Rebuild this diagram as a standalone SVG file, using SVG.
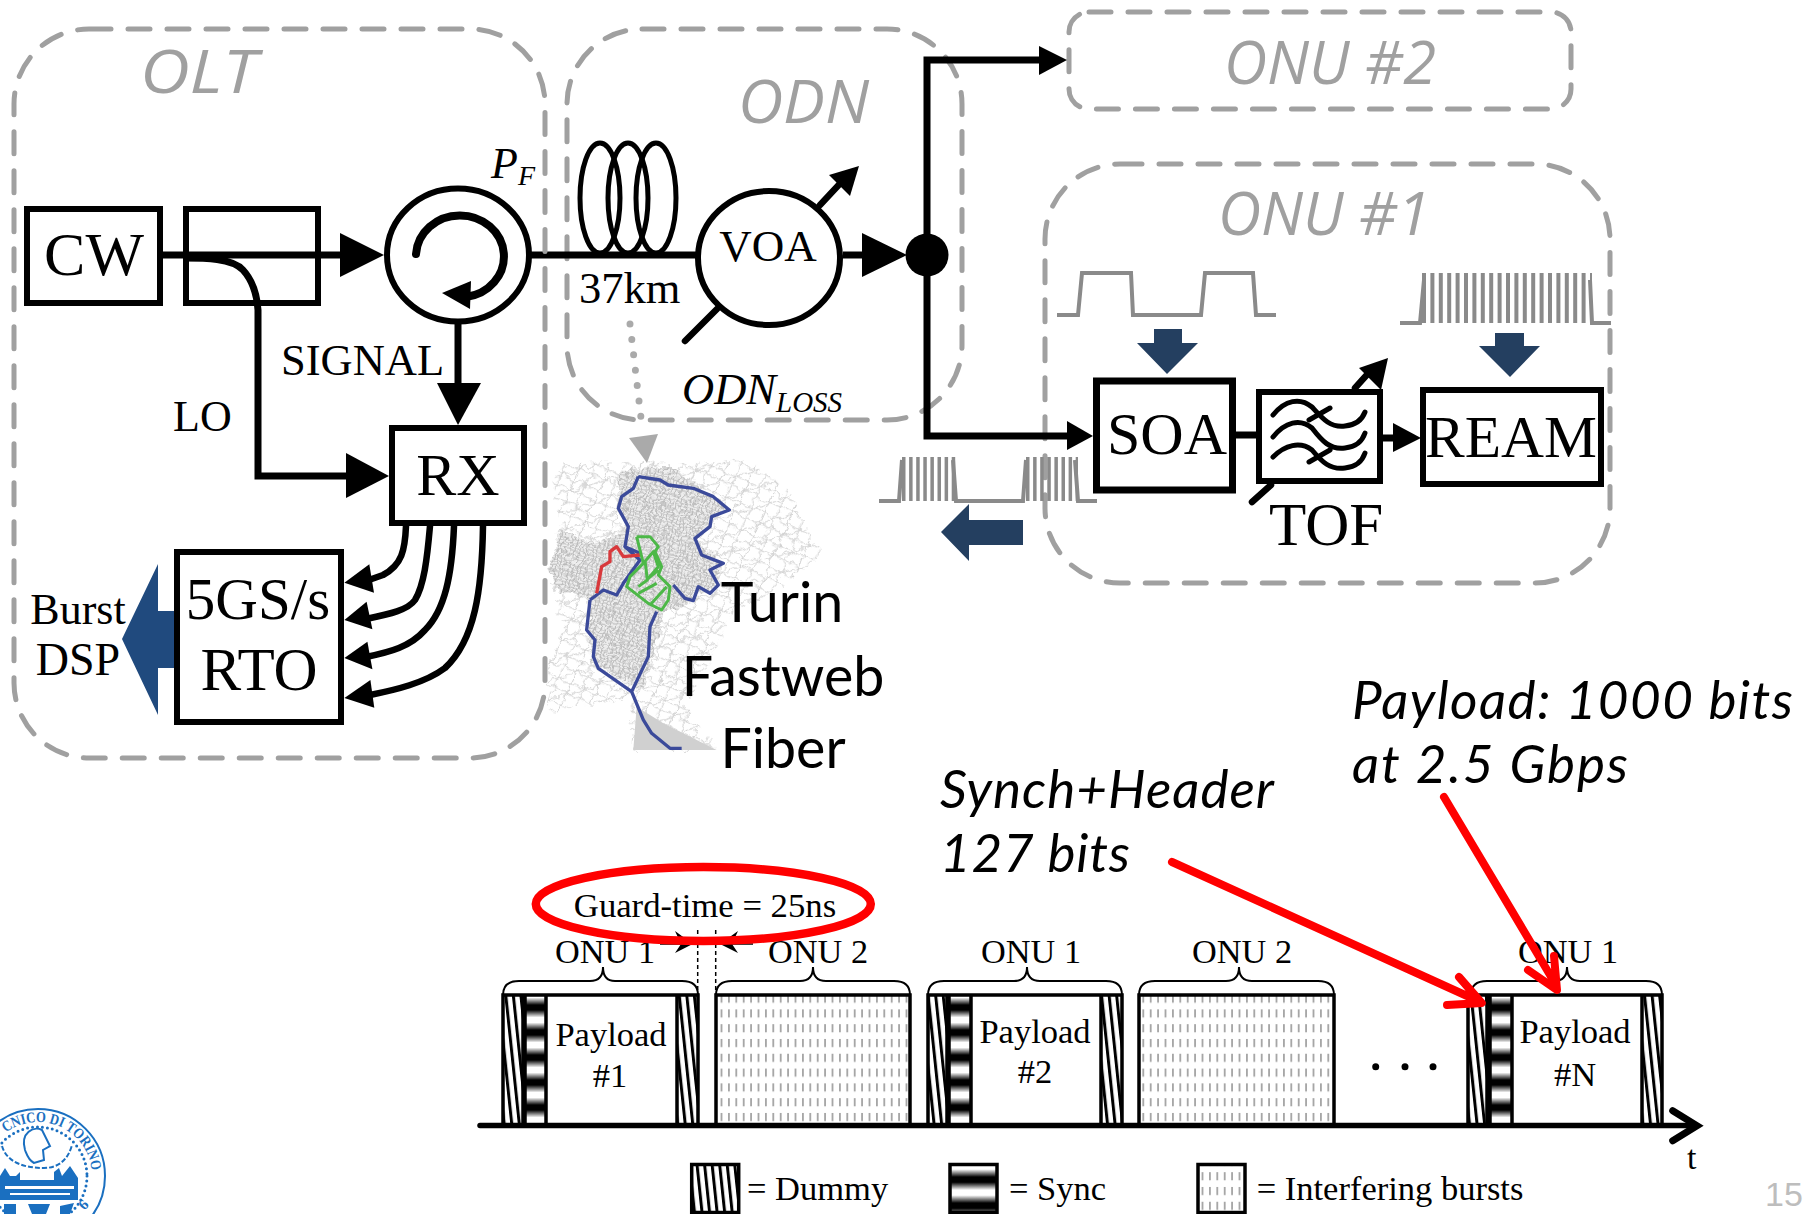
<svg xmlns="http://www.w3.org/2000/svg" width="1816" height="1214" viewBox="0 0 1816 1214">
<style>
.t{font-family:"Liberation Serif","Times New Roman",serif;fill:#000}
.m{text-anchor:middle}
.i{font-style:italic}
.g{font-family:"Open Sans","Noto Sans",sans-serif;font-style:italic;fill:#a0a0a0;font-size:61px}
.s{font-family:Lato,"Open Sans",sans-serif;font-style:italic;fill:#000;font-size:53px}
.c{font-family:Lato,"Open Sans",sans-serif;fill:#000;font-size:55.5px;text-anchor:middle}
.d{fill:none;stroke:#a0a0a0;stroke-width:5;stroke-dasharray:22 17;stroke-linecap:round}
.b{fill:#fff;stroke:#000;stroke-width:6}
.w{fill:none;stroke:#000;stroke-width:7}
.l{fill:none;stroke:#000;stroke-width:6.5;stroke-linejoin:round;stroke-linecap:round}
.f{fill:none;stroke:#000;stroke-width:5;stroke-linecap:round}
.p{fill:none;stroke:#8a8a8a;stroke-width:4}
.n{fill:#243f60}
.r{fill:none;stroke:#f00;stroke-width:8;stroke-linecap:round;stroke-linejoin:round}
.h{fill:none;stroke:#000;stroke-width:3.5}
.br{fill:none;stroke:#000;stroke-width:2}
.lg{fill:#1a6fc0}
.ls{fill:none;stroke:#1a6fc0;stroke-width:2}
</style>
<defs>
<pattern id="dummy" width="7.5" height="40" patternUnits="userSpaceOnUse" patternTransform="rotate(-6)"><rect width="7.5" height="40" fill="#fff"/><rect width="3" height="40" fill="#000"/></pattern>
<linearGradient id="bands" x1="0" y1="0" x2="0" y2="1"><stop offset="0" stop-color="#000"/><stop offset=".2" stop-color="#000"/><stop offset=".5" stop-color="#fff"/><stop offset=".7" stop-color="#fff"/><stop offset="1" stop-color="#000"/></linearGradient>
<pattern id="sync" y="1005" width="30" height="25" patternUnits="userSpaceOnUse"><rect width="30" height="25" fill="url(#bands)"/></pattern>
<pattern id="sync2" y="1177" width="60" height="26" patternUnits="userSpaceOnUse"><rect width="60" height="26" fill="url(#bands)"/></pattern>
<pattern id="dots" width="7.4" height="14.8" patternUnits="userSpaceOnUse"><rect width="7.4" height="14.8" fill="#fff"/><line x1="3.7" y1="3" x2="3.7" y2="11" stroke="#777" stroke-width="1.2"/></pattern>
<pattern id="sparse" width="80" height="70" patternUnits="userSpaceOnUse" patternTransform="rotate(24)"><path d="M0 14H80M0 46H80M22 0V70M60 0V70M0 70 80 0" fill="none" stroke="#d2d2d2" stroke-width="3"/></pattern>
<pattern id="dense" width="26" height="24" patternUnits="userSpaceOnUse" patternTransform="rotate(18)"><rect width="26" height="24" fill="#eeeeee"/><path d="M0 7H26M0 18H26M7 0V24M19 0V24" fill="none" stroke="#b8b8b8" stroke-width="3"/></pattern>
<filter id="streets" x="-5%" y="-5%" width="110%" height="110%"><feTurbulence type="fractalNoise" baseFrequency=".035" numOctaves="3" seed="7" result="n"/><feDisplacementMap in="SourceGraphic" in2="n" scale="30" xChannelSelector="R" yChannelSelector="G"/><feGaussianBlur stdDeviation="2"/></filter>
<path id="arc" d="M-16 1176A54 54 0 0 1 92 1176"/>
<clipPath id="logoclip"><rect x="0" y="1100" width="120" height="114"/></clipPath>
</defs>

<g id="odn-group"><rect class="d" x="567" y="29" width="395" height="391" rx="75"/><text class="g" x="738" y="123" textLength="131" lengthAdjust="spacingAndGlyphs">ODN</text></g>
<g id="onu2-group"><rect class="d" x="1069" y="12" width="502" height="97" rx="20"/><text class="g" x="1224" y="84" textLength="212" lengthAdjust="spacingAndGlyphs">ONU #2</text></g>
<g id="onu1-group"><rect class="d" x="1045" y="164" width="565" height="419" rx="75"/><text class="g" x="1218" y="235" textLength="212" lengthAdjust="spacingAndGlyphs">ONU #1</text></g>

<g id="turin-map">
<g transform="translate(530 430) scale(.3333)">
<g filter="url(#streets)">
<path fill="url(#sparse)" d="M100 100 290 95 480 100 650 90 780 180 860 350 870 380 760 470 600 560 540 700 470 830 560 960 310 960 300 810 130 830 50 860 55 700 100 600 55 430 90 280 70 150Z"/>
<path fill="url(#dense)" d="M270 120 420 110 590 230 500 330 570 400 560 470 400 550 340 780 190 700 170 500 90 490 55 420 90 300 200 340 290 300 260 230Z"/>
</g>
<path fill="#d0d0d0" d="M310 960 320 830 400 880 560 960Z"/>
<path fill="none" stroke="#3b4a9a" stroke-width="10" stroke-linejoin="round" d="M325 140 390 150 415 165 490 175 550 200 598 240 545 260 540 290 495 325 515 375 580 400 540 420 565 465 540 490 505 470 490 512 465 505 430 465M285 350 295 290 265 235 275 200 310 175 325 140M180 510 170 600 195 630 190 680 205 715 305 785 340 870 365 910 420 955 455 955M305 785 355 680 360 590 380 545M180 510 220 480 260 495 280 460 330 390 285 350 330 370"/>
<path fill="none" stroke="#d8393c" stroke-width="10" stroke-linejoin="round" d="M200 490 215 410 240 395 240 365 260 350 280 380 330 375"/>
<path fill="none" stroke="#4db848" stroke-width="9" stroke-linejoin="round" d="M320 320 360 320 385 350 375 365 395 410 385 435 420 470 415 510 395 540 355 520 290 470 300 440 340 400 320 320M340 400 370 365 385 410 355 445 385 420M325 490 380 460M360 525 410 470M345 390 352 450 325 470"/>
</g>
<text class="c" x="782" y="622">Turin</text>
<text class="c" x="783" y="696">Fastweb</text>
<text class="c" x="783" y="768">Fiber</text>
</g>

<g id="connectors">
<path class="w" d="M162 255H345"/><path d="M340 233 384 255 340 277Z"/>
<path class="w" d="M183 258C205 258 232 258 243 270 254 282 257 296 258 310V476H350"/><path d="M346 453 389 476 346 498Z"/>
<path class="w" d="M458 322V390"/><path d="M437 383H481L458 425Z"/>
<path class="w" d="M528 255H696"/>
<path class="w" d="M843 255H866"/><path d="M862 233 907 255 862 277Z"/>
<path class="w" d="M1040 60H927V436H1070"/><path d="M1039 46 1067 60 1039 75Z"/><path d="M1067 421 1093 436 1067 450Z"/>
<path class="w" d="M1236 435H1258M1383 438H1396"/><path d="M1393 423 1421 438 1393 452Z"/>
<path class="l" d="M406 526C405 550 402 565 383 575L366 581"/><path d="M344.4 582.7 369.3 564.3 374 592.7Z"/>
<path class="l" d="M430 526C427 560 424 585 415 600 408 610 390 614 366 619"/><path d="M344.4 620 366.6 601.7 372.4 629.3Z"/>
<path class="l" d="M454 526C452 575 445 610 425 630 410 647 390 652 366 657"/><path d="M344.4 658 367.4 641.7 372.4 669.3Z"/>
<path class="l" d="M483 526C482 590 475 640 445 668 425 683 395 690 370 695"/><path d="M344.4 698 370.4 680 374.3 707.7Z"/>
<path fill="none" stroke="#aaa" stroke-width="7" stroke-linecap="round" stroke-dasharray="0 15.5" d="M630 324 641 418"/>
<path fill="#aaa" d="M647 463 629 438 658 434Z"/>
</g>

<g id="pulses">
<path class="p" d="M1057 315H1078L1082 273H1131L1133 315H1201L1205 273H1253L1256 315H1276"/>
<path class="p" d="M1400 323H1420L1424 280M1590 280 1592 323H1611"/>
<line x1="1422" y1="298" x2="1592" y2="298" stroke="#8a8a8a" stroke-width="50" stroke-dasharray="4 4.4"/>
<path class="p" d="M879 501H899L902 460M953 460 956 501H1023L1026 460M1075 460 1078 501H1097"/>
<line x1="902" y1="479" x2="956" y2="479" stroke="#8a8a8a" stroke-width="44" stroke-dasharray="3.5 3.6"/>
<line x1="1026" y1="479" x2="1078" y2="479" stroke="#8a8a8a" stroke-width="44" stroke-dasharray="3.5 3.6"/>
<path class="n" d="M1154 329H1182V343H1198L1167 374 1137 343H1154Z"/>
<path class="n" d="M1495 333H1524V346H1540L1510 377 1479 346H1495Z"/>
<path class="n" d="M941 532 969 504V520H1023V545H969V561Z"/>
<path fill="#204a7e" d="M122 639 158 564V611H176V668H158V715Z"/>
</g>

<g id="olt-group"><rect class="d" x="14" y="29" width="531" height="729" rx="75"/><text class="g" x="140" y="93" textLength="117" lengthAdjust="spacingAndGlyphs">OLT</text></g>

<g id="cw"><rect x="27" y="209" width="133" height="94" fill="none" stroke="#000" stroke-width="6"/><text class="t m" x="94" y="275" font-size="62">CW</text></g>
<g id="coupler"><rect x="186" y="209" width="132" height="94" fill="none" stroke="#000" stroke-width="6"/></g>
<g id="circulator"><ellipse cx="458" cy="255" rx="71" ry="66.5" class="b"/>
<path fill="none" stroke="#000" stroke-width="8" stroke-linecap="round" d="M416 254A44 41 0 1 1 466 297"/><path d="M442 293 471 281 470 309Z"/>
<text class="t i" x="491" y="178" font-size="44">P</text><text class="t i" x="518" y="185" font-size="28">F</text></g>
<g id="rx"><rect class="b" x="392" y="428" width="132" height="95"/><text class="t m" x="458" y="495" font-size="60">RX</text></g>
<g id="rto"><rect class="b" x="177" y="552" width="164" height="170"/><text class="t m" x="258" y="619" font-size="59">5GS/s</text><text class="t m" x="259" y="690" font-size="61">RTO</text></g>
<g id="labels">
<text class="t" x="281" y="375" font-size="44.500">SIGNAL</text>
<text class="t" x="173" y="431" font-size="44">LO</text>
<text class="t m" x="78" y="624" font-size="44">Burst</text>
<text class="t m" x="78" y="675" font-size="46">DSP</text>
<text class="t" x="579" y="303" font-size="44.500">37km</text>
<text class="t i" x="682" y="404" font-size="44.500">ODN</text><text class="t i" x="776" y="412" font-size="29">LOSS</text>
<text class="t" x="1269" y="545" font-size="61">TOF</text>
</g>
<g id="coil" fill="none" stroke="#000" stroke-width="5"><ellipse cx="600" cy="198" rx="20" ry="55"/><ellipse cx="628" cy="198" rx="20" ry="55"/><ellipse cx="656" cy="198" rx="20" ry="55"/></g>
<g id="voa"><ellipse class="b" cx="769" cy="258" rx="71" ry="67"/><text class="t m" x="768" y="261" font-size="45">VOA</text>
<path class="l" d="M820 205 848 175M717 309 685 341"/><path d="M859 166 829 175 850 196Z"/></g>
<g id="splitter"><circle cx="927" cy="255" r="21.500"/></g>
<g id="soa"><rect x="1096.500" y="381" width="136" height="109" fill="#fff" stroke="#000" stroke-width="7"/><text class="t m" x="1167" y="454" font-size="60">SOA</text></g>
<g id="tof"><rect class="b" x="1259" y="392" width="121" height="89"/>
<path class="f" d="M1273 415C1285 400 1300 397 1312 407 1322 418 1330 428 1345 426 1355 425 1362 420 1365 412M1273 437C1285 422 1300 418 1312 428 1322 441 1330 450 1345 448 1355 447 1362 442 1365 433M1273 457C1285 445 1300 441 1312 450 1322 462 1330 470 1345 468 1355 467 1362 462 1365 453M1309 420 1330 408M1309 462 1330 450"/>
<path class="l" d="M1355 388 1373 368M1271 485 1252 502"/><path d="M1388 358 1359 368 1381 390Z"/></g>
<g id="ream"><rect class="b" x="1423" y="390" width="178" height="94"/><text class="t m" x="1511" y="457" font-size="59.500">REAM</text></g>

<g id="timeline">
<g id="burst1"><rect x="503" y="995" width="20" height="130" fill="url(#dummy)"/><rect x="524" y="995" width="22" height="130" fill="url(#sync)"/><rect x="677" y="995" width="21" height="130" fill="url(#dummy)"/><path class="h" d="M503 1125V995H698V1125M523 995V1125M525 995V1125M546 995V1125M677 995V1125"/>
<text class="t m" x="611" y="1046" font-size="34.500">Payload</text><text class="t m" x="610" y="1087" font-size="34.500">#1</text></g>
<g id="burst2"><rect x="716" y="995" width="194" height="130" fill="url(#dots)" stroke="#000" stroke-width="3.5"/></g>
<g id="burst3"><rect x="928" y="995" width="19" height="130" fill="url(#dummy)"/><rect x="949" y="995" width="22" height="130" fill="url(#sync)"/><rect x="1101" y="995" width="21" height="130" fill="url(#dummy)"/><path class="h" d="M928 1125V995H1122V1125M947 995V1125M949 995V1125M971 995V1125M1101 995V1125"/>
<text class="t m" x="1035" y="1043" font-size="34.500">Payload</text><text class="t m" x="1035" y="1083" font-size="34.500">#2</text></g>
<g id="burst4"><rect x="1139" y="995" width="195" height="130" fill="url(#dots)" stroke="#000" stroke-width="3.5"/></g>
<g id="burst5"><rect x="1468" y="995" width="19" height="130" fill="url(#dummy)"/><rect x="1490" y="995" width="22" height="130" fill="url(#sync)"/><rect x="1642" y="995" width="20" height="130" fill="url(#dummy)"/><path class="h" d="M1468 1125V995H1662V1125M1487 995V1125M1490 995V1125M1512 995V1125M1642 995V1125"/>
<text class="t m" x="1575" y="1043" font-size="34.500">Payload</text><text class="t m" x="1575" y="1086" font-size="34.500">#N</text></g>
<path class="br" d="M503 995Q503 981 519 981H590Q603 981 603 967Q603 981 615 981H682Q698 981 698 995"/>
<path class="br" d="M716 995Q716 981 732 981H800Q813 981 813 967Q813 981 826 981H894Q910 981 910 995"/>
<path class="br" d="M928 995Q928 981 944 981H1014Q1027 981 1027 967Q1027 981 1040 981H1106Q1122 981 1122 995"/>
<path class="br" d="M1139 995Q1139 981 1155 981H1226Q1239 981 1239 967Q1239 981 1252 981H1318Q1334 981 1334 995"/>
<path class="br" d="M1471 995Q1471 981 1487 981H1554Q1567 981 1567 967Q1567 981 1580 981H1646Q1662 981 1662 995"/>
<text class="t" x="555" y="963" font-size="34.300">ONU 1</text>
<text class="t" x="768" y="963" font-size="34.300">ONU 2</text>
<text class="t" x="981" y="963" font-size="34.300">ONU 1</text>
<text class="t" x="1192" y="963" font-size="34.300">ONU 2</text>
<text class="t" x="1518" y="963" font-size="34.300">ONU 1</text>
<path fill="none" stroke="#000" stroke-width="1.5" stroke-dasharray="4 3" d="M697.700 930V995M715.700 930V995"/>
<path fill="none" stroke="#000" stroke-width="1.500" d="M660 944H685M728 944H753"/>
<path d="M692.700 944 675 931 681 944 675 953ZM720 944 738 931 732 944 738 953Z"/>
<path fill="none" stroke="#000" stroke-width="5.500" stroke-linecap="round" d="M480 1125.500H1694"/>
<path fill="none" stroke="#000" stroke-width="7" stroke-linecap="round" stroke-linejoin="miter" d="M1672.700 1110.700 1697 1125.700 1672.700 1140.700"/>
<circle cx="1375.700" cy="1066.700" r="3.500"/><circle cx="1405" cy="1066.700" r="3.500"/><circle cx="1433" cy="1066.700" r="3.500"/>
<text class="t" x="1687" y="1169" font-size="34">t</text>
<g id="legend">
<rect x="691.700" y="1164.500" width="47" height="48" fill="url(#dummy)" stroke="#000" stroke-width="3.500"/><text class="t" x="747" y="1200" font-size="34.500">= Dummy</text>
<rect x="950" y="1164.500" width="47" height="48" fill="url(#sync2)" stroke="#000" stroke-width="3.500"/><text class="t" x="1009" y="1200" font-size="34.500">= Sync</text>
<rect x="1198" y="1164.500" width="47" height="48" fill="url(#dots)" stroke="#000" stroke-width="3.500"/><text class="t" x="1256.700" y="1200" font-size="34.500">= Interfering bursts</text>
</g>
<text class="t m" x="705" y="917" font-size="34.700">Guard-time = 25ns</text>
</g>

<g id="annotations">
<ellipse cx="703.300" cy="904" rx="167.500" ry="37" fill="none" stroke="#f00" stroke-width="8.500"/>
<path class="r" d="M1172 862 1476 1000M1459 977 1481.700 1003 1447 1005"/>
<path class="r" d="M1444 797 1556 985M1554 956 1557 990 1528 970"/>
<text class="s" x="940" y="808" textLength="334" lengthAdjust="spacing">Synch+Header</text>
<text class="s" x="940" y="872" textLength="190" lengthAdjust="spacing">127 bits</text>
<text class="s" x="1352" y="719" textLength="441" lengthAdjust="spacing">Payload: 1000 bits</text>
<text class="s" x="1352" y="783" textLength="276" lengthAdjust="spacing">at 2.5 Gbps</text>
</g>

<g id="logo" clip-path="url(#logoclip)">
<circle class="ls" cx="38" cy="1176" r="67"/>
<circle cx="38" cy="1176" r="49" fill="none" stroke="#1a6fc0" stroke-width="3" stroke-dasharray="0 5" stroke-linecap="round"/>
<text font-family="Liberation Serif,serif" font-weight="bold" font-size="15" fill="#1a6fc0"><textPath href="#arc" startOffset="50" textLength="114" lengthAdjust="spacingAndGlyphs">CNICO DI TORINO</textPath></text>
<path class="ls" d="M25 1150C20 1132 34 1126 42 1130L50 1146 43 1150 44 1160 34 1163C28 1160 27 1155 25 1150Z"/>
<path class="ls" stroke-dasharray="5 2" d="M2 1146C6 1160 20 1168 44 1168 58 1168 68 1160 72 1145"/>
<path class="lg" d="M0 1176 5 1168 10 1176H16L20 1172V1180H54V1172L59 1168 62 1176 70 1166 78 1178V1200H0Z"/>
<path fill="#fff" d="M5 1186H74V1189H5ZM10 1193H70V1195H10Z"/>
<path class="lg" d="M4 1204H16V1214H4ZM28 1204H50L46 1214H32ZM60 1206 74 1203 70 1214H60Z"/>
<text font-family="Liberation Serif,serif" font-weight="bold" font-size="15" fill="#1a6fc0" transform="rotate(-45 90 1205)" x="82" y="1205">6</text>
</g>

<text id="page-number" font-family="Liberation Sans,Arial,sans-serif" font-size="34" fill="#bdbdbd" x="1765" y="1206">15</text>
</svg>
